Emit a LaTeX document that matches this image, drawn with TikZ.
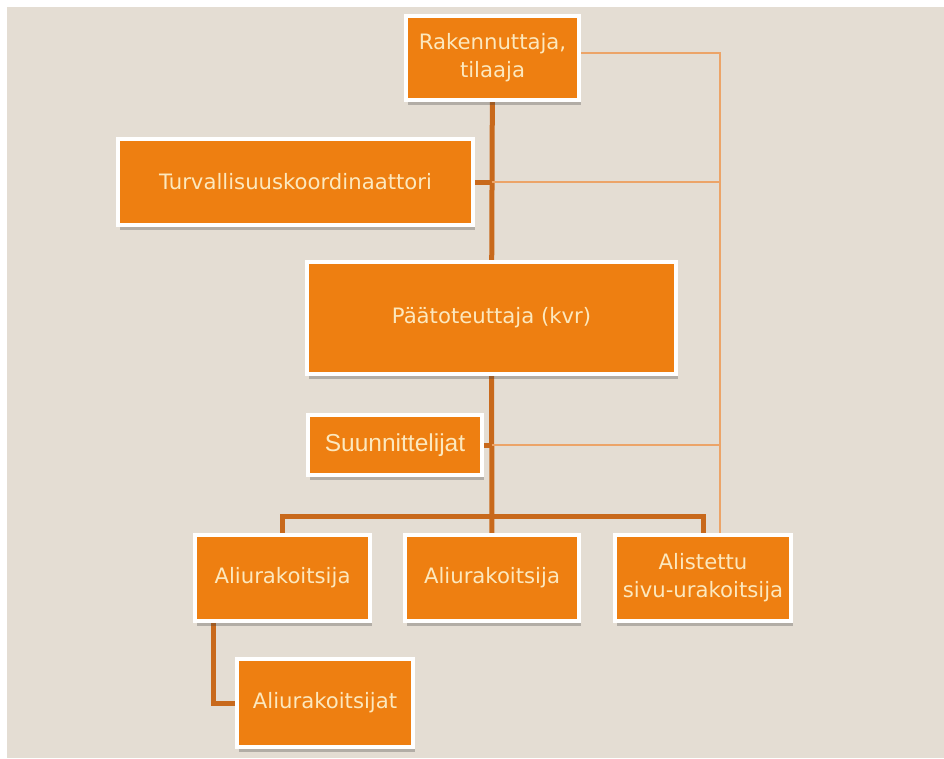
\documentclass[tikz,border=0pt]{standalone}
\usepackage{fontspec}
\setmainfont{DejaVu Sans}
\newfontfamily\arialfont{Liberation Sans}
\usetikzlibrary{shadows,backgrounds}

\definecolor{pagebg}{HTML}{E4DDD3}
\definecolor{boxfill}{HTML}{EE7F11}
\definecolor{boxtext}{HTML}{FCE8BE}
\definecolor{trunkcol}{HTML}{C8691C}
\definecolor{railcol}{HTML}{ECA468}

\tikzset{
  orgbox/.style={draw=white, line width=4pt, fill=boxfill, text=boxtext,
    font=\fontsize{21.2}{28}\selectfont, align=center, inner sep=0pt,
    drop shadow={shadow xshift=2pt, shadow yshift=-5pt, opacity=0.3, fill=black!75}},
  trunk/.style={draw=trunkcol, line width=5pt},
  rail/.style={draw=railcol, line width=2pt},
}

\begin{document}
\begin{tikzpicture}[x=1pt, y=-1pt]
  \useasboundingbox (0,0) rectangle (944,758);

  % organisation boxes (sizes are outer size minus the border width)
  \node[orgbox, minimum width=173pt, minimum height=84pt] (R) at (492.5,58) {Rakennuttaja,\\tilaaja};
  \node[orgbox, minimum width=355pt, minimum height=86pt] (T) at (295.5,182) {Turvallisuuskoordinaattori};
  \node[orgbox, minimum width=369pt, minimum height=112pt] (P) at (491.5,318) {Päätoteuttaja (kvr)};
  \node[orgbox, minimum width=174pt, minimum height=60pt, font=\arialfont\fontsize{24.5}{28}\selectfont] (S) at (395,445) {Suunnittelijat};
  \node[orgbox, minimum width=175pt, minimum height=86pt] (A1) at (282.5,578) {Aliurakoitsija};
  \node[orgbox, minimum width=174pt, minimum height=86pt] (A2) at (492,578) {Aliurakoitsija};
  \node[orgbox, minimum width=176pt, minimum height=86pt] (AS) at (703,578) {Alistettu\\sivu-urakoitsija};
  \node[orgbox, minimum width=176pt, minimum height=88pt] (AT) at (325,703) {Aliurakoitsijat};

  \coordinate (bar) at (493,516);
  \coordinate (railtop) at ([xshift=17pt]AS.north);

  \begin{scope}[on background layer]
    \fill[white] (0,0) rectangle (944,758);
    \fill[pagebg] (7,7) rectangle (944,758);

    % main line of command
    \draw[trunk] (R) -- (P);
    \draw[trunk] (P) -- (A2);
    \draw[trunk] (T.east) -- (T.east -| P.north);
    \draw[trunk] (S.east) -- (S.east -| P.north);
    \draw[trunk] (A1.north) |- (bar) -| (AS.north);
    \draw[trunk] ([xshift=-69.5pt]A1.south) |- (AT.west);

    % direct link from the client to the side contractor
    \draw[rail] ([yshift=5pt]R.east) -| (railtop);
    \draw[rail] (T.east -| P.north) -- (T.east -| railtop);
    \draw[rail] (S.east -| P.north) -- (S.east -| railtop);
  \end{scope}
\end{tikzpicture}
\end{document}
